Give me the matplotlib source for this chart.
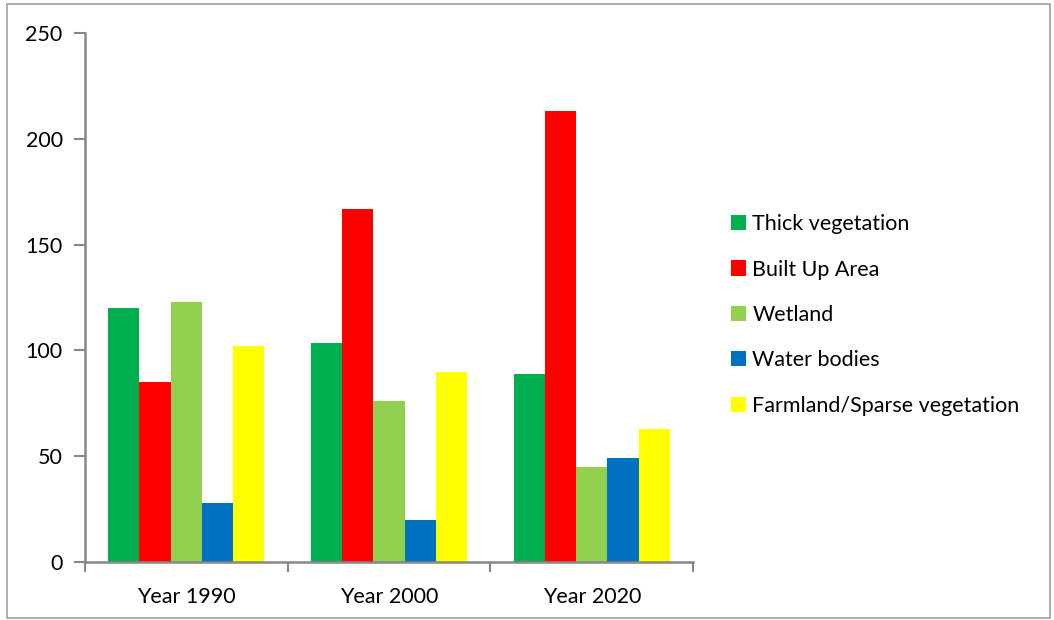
import matplotlib
matplotlib.use('Agg')
import matplotlib.pyplot as plt
import numpy as np
from matplotlib.patches import Rectangle

# %% Data
years = ['Year 1990', 'Year 2000', 'Year 2020']
classes = ['Thick vegetation', 'Built Up Area', 'Wetland', 'Water bodies',
           'Farmland/Sparse vegetation']
thick_veg = [120, 103.5, 89]
built_up = [85, 167, 213]
wetland = [123, 76, 45]
water = [28, 20, 49]
farmland = [102, 90, 63]
colors = ['#00B050', '#FF0000', '#92D050', '#0070C0', '#FFFF00']

series = [thick_veg, built_up, wetland, water, farmland]

plt.rcParams['font.family'] = ['Lato', 'DejaVu Sans']
FS = 15.5

fig = plt.figure(figsize=(10.54, 6.20), dpi=100)
ax = fig.add_axes([0.0806, 0.0935, 0.577, 0.8533])

# outer chart border
fig.patches.append(Rectangle((0.007, 0.004), 0.989, 0.99, transform=fig.transFigure,
                             fill=False, edgecolor='#A0A0A0', linewidth=1.2))

x = np.arange(len(years))
width = 0.154
for i, (vals, name) in enumerate(zip(series, classes)):
    ax.bar(x + (i - 2) * width, vals, width, color=colors[i], label=name,
           linewidth=0)

ax.set_xlim(-0.5, len(years) - 0.5)
ax.set_ylim(0, 250)
ax.set_yticks(range(0, 251, 50))

# category ticks at group boundaries, labels centered
ax.set_xticks(np.arange(-0.5, len(years), 1.0))
ax.set_xticklabels([])
ax.set_xticks(x, minor=True)
ax.set_xticklabels(years, minor=True, fontsize=FS)
ax.tick_params(axis='x', which='minor', length=0, pad=18)
ax.tick_params(axis='x', which='major', length=7, width=1.5, color='#878787')
ax.tick_params(axis='y', length=8, width=1.5, color='#878787', pad=8,
               labelsize=FS)

for s in ['top', 'right']:
    ax.spines[s].set_visible(False)
for s in ['left', 'bottom']:
    ax.spines[s].set_color('#878787')
    ax.spines[s].set_linewidth(1.8)

ax.legend(loc='center left', bbox_to_anchor=(1.030, 0.467), frameon=False,
          fontsize=FS, handlelength=0.7, handleheight=0.7,
          handletextpad=0.3, labelspacing=1.18)

fig.savefig('out.png', dpi=100)
